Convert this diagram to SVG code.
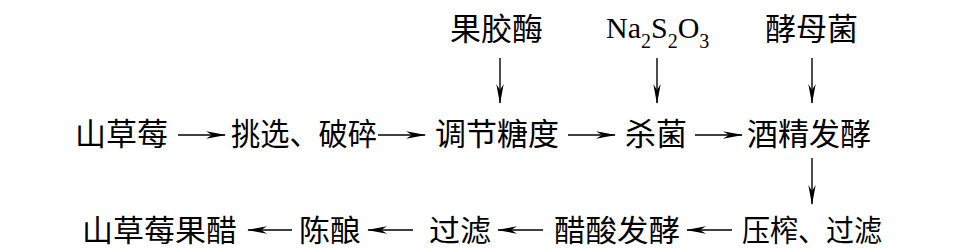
<svg xmlns="http://www.w3.org/2000/svg" width="958" height="250" viewBox="0 0 958 250">
<style>
.t{font-family:"Noto Sans CJK SC","Liberation Serif",serif;font-size:31px;fill:#000}
.b{font-size:30px}
.c{stroke:#000;stroke-width:1.4;fill:none}
.n{font-family:"Liberation Serif",serif;font-size:30px;fill:#000}
.s{font-size:20px}
</style>
<defs>
<marker id="ah" markerUnits="userSpaceOnUse" markerWidth="20" markerHeight="9" refX="19" refY="4.5" orient="auto" viewBox="0 0 20 9">
<path d="M0,0.8 L20,4.5 L0,8.2 L6,4.5 Z" fill="#000"/>
</marker>
</defs>
<rect width="958" height="250" fill="#fff"/>
<g id="n-pectinase"><text class="t" x="450" y="40">果胶酶</text></g>
<g id="n-na2s2o3"><text class="n" x="606" y="38">Na<tspan class="s" dy="10">2</tspan><tspan dy="-10">S</tspan><tspan class="s" dy="10">2</tspan><tspan dy="-10">O</tspan><tspan class="s" dy="10">3</tspan></text></g>
<g id="n-yeast"><text class="t" x="765" y="40">酵母菌</text></g>
<g id="n-hawthorn"><text class="t" x="75" y="145">山草莓</text></g>
<g id="n-select"><text class="t" x="231" y="145" textLength="146" lengthAdjust="spacingAndGlyphs">挑选、破碎</text></g>
<g id="n-sugar"><text class="t" x="435" y="145">调节糖度</text></g>
<g id="n-sterilize"><text class="t" x="625" y="145">杀菌</text></g>
<g id="n-alcohol"><text class="t" x="747" y="145">酒精发酵</text></g>
<g id="n-press"><text class="t b" x="742" y="241" textLength="140" lengthAdjust="spacingAndGlyphs">压榨、过滤</text></g>
<g id="n-acetic"><text class="t b" x="554" y="241" textLength="126" lengthAdjust="spacingAndGlyphs">醋酸发酵</text></g>
<g id="n-filter"><text class="t b" x="429" y="241" textLength="62" lengthAdjust="spacingAndGlyphs">过滤</text></g>
<g id="n-aging"><text class="t b" x="299" y="241" textLength="62" lengthAdjust="spacingAndGlyphs">陈酿</text></g>
<g id="n-vinegar"><text class="t b" x="82" y="241" textLength="155" lengthAdjust="spacingAndGlyphs">山草莓果醋</text></g>
<g id="connectors">
<line class="c" x1="500" y1="58" x2="500" y2="103" marker-end="url(#ah)"/>
<line class="c" x1="657" y1="58" x2="657" y2="103" marker-end="url(#ah)"/>
<line class="c" x1="812" y1="58" x2="812" y2="103" marker-end="url(#ah)"/>
<line class="c" x1="178" y1="135" x2="225" y2="135" marker-end="url(#ah)"/>
<line class="c" x1="378" y1="135" x2="425" y2="135" marker-end="url(#ah)"/>
<line class="c" x1="568" y1="135" x2="615" y2="135" marker-end="url(#ah)"/>
<line class="c" x1="695" y1="135" x2="742" y2="135" marker-end="url(#ah)"/>
<line class="c" x1="812" y1="158" x2="812" y2="204" marker-end="url(#ah)"/>
<line class="c" x1="732" y1="230" x2="687" y2="230" marker-end="url(#ah)"/>
<line class="c" x1="543" y1="230" x2="498" y2="230" marker-end="url(#ah)"/>
<line class="c" x1="413" y1="230" x2="368" y2="230" marker-end="url(#ah)"/>
<line class="c" x1="292" y1="230" x2="248" y2="230" marker-end="url(#ah)"/>
</g>
</svg>
